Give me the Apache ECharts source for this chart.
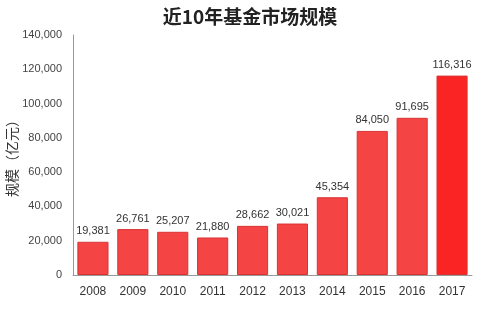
<!DOCTYPE html>
<html>
<head>
<meta charset="utf-8">
<script src="https://cdn.jsdelivr.net/npm/echarts@6/dist/echarts.min.js"></script>
<style>
  html, body { margin: 0; padding: 0; background: #fff; }
  #chart { width: 500px; height: 313px; }
</style>
</head>
<body>
<div id="chart"></div>
<script>
var years = ['2008', '2009', '2010', '2011', '2012', '2013', '2014', '2015', '2016', '2017'];
var scale = [19381, 26761, 25207, 21880, 28662, 30021, 45354, 84050, 91695, 116316];
var yTicks = [0, 20000, 40000, 60000, 80000, 100000, 120000, 140000];

function fmt(v) {
  return String(v).replace(/\B(?=(\d{3})+(?!\d))/g, ',');
}

var chart = echarts.init(document.getElementById('chart'));
var option = {
  animation: false,
  title: {
    text: '近10年基金市场规模',
    left: 'center',
    top: 2,
    textStyle: {
      fontFamily: 'Noto Sans CJK SC',
      fontSize: 19,
      fontWeight: 'bold',
      color: '#222'
    }
  },
  grid: {
    left: 73,
    right: 28,
    top: 35,
    bottom: 38,
    containLabel: false,
    outerBoundsMode: 'none'
  },
  xAxis: {
    type: 'category',
    data: years,
    axisLine: { lineStyle: { color: '#999' } },
    axisTick: { show: false },
    axisLabel: { color: '#333', fontSize: 12, margin: 11, fontFamily: 'Liberation Sans' }
  },
  yAxis: {
    type: 'value',
    min: yTicks[0],
    max: yTicks[yTicks.length - 1],
    interval: 20000,
    name: '规模（亿元）',
    nameLocation: 'middle',
    nameGap: 54,
    nameMoveOverlap: false,
    nameTextStyle: { fontSize: 14, color: '#333', fontFamily: 'Noto Sans CJK SC' },
    axisLine: { show: true, lineStyle: { color: '#999' } },
    axisTick: { show: false },
    splitLine: { show: false },
    axisLabel: {
      color: '#444',
      fontSize: 11,
      margin: 11,
      fontFamily: 'Liberation Sans',
      formatter: function (v) { return fmt(v); }
    }
  },
  series: [{
    type: 'bar',
    data: scale,
    barCategoryGap: '22%',
    itemStyle: {
      color: function (p) { return p.dataIndex === scale.length - 1 ? '#fb2424' : '#f44444'; },
      borderColor: '#d83434',
      borderWidth: 1
    },
    label: {
      show: true,
      position: 'top',
      distance: 5,
      color: '#333',
      fontSize: 11,
      fontFamily: 'Liberation Sans',
      formatter: function (p) { return fmt(p.value); }
    }
  }]
};
chart.setOption(option);
</script>
</body>
</html>
